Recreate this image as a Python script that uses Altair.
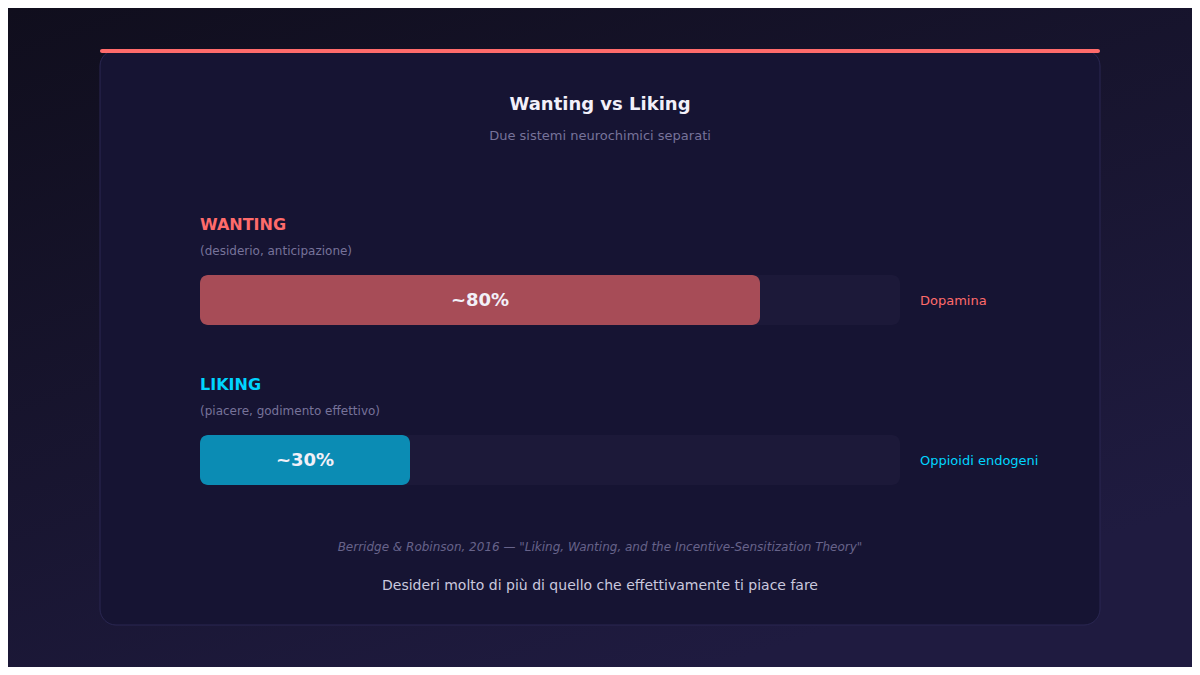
import altair as alt
import pandas as pd

# ---- data ----
names = ["WANTING", "LIKING"]
descs = ["(desiderio, anticipazione)", "(piacere, godimento effettivo)"]
values = [80, 30]
labels = ["~80%", "~30%"]
systems = ["Dopamina", "Oppioidi endogeni"]
track_max = [100, 100]

title_text = "Wanting vs Liking"
subtitle_text = "Due sistemi neurochimici separati"
citation_text = 'Berridge & Robinson, 2016 — "Liking, Wanting, and the Incentive-Sensitization Theory"'
footer_text = "Desideri molto di più di quello che effettivamente ti piace fare"

# ---- styles ----
bar_colors = ["#a74c57", "#0b8cb4"]
text_colors = ["#ff6b6b", "#00d4ff"]
FONT = "DejaVu Sans"
W, H = 1184, 659
OFF = 8

df = pd.DataFrame({
    "name": names, "desc": descs, "value": values, "label": labels,
    "system": systems, "track": track_max,
})
df["zero"] = 0
df["mid"] = df["value"] / 2

xs = alt.Scale(domain=[0, 100], range=[200 - OFF, 900 - OFF])
ys = alt.Scale(type="point", domain=names, range=[300 - OFF, 460 - OFF], padding=0)
bar_col = alt.Scale(domain=names, range=bar_colors)
txt_col = alt.Scale(domain=names, range=text_colors)

one = pd.DataFrame({"t": [0]})

bg = alt.Chart(one).mark_rect(
    color=alt.LinearGradient(
        gradient="linear",
        stops=[alt.GradientStop(color="#100e1d", offset=0),
               alt.GradientStop(color="#1f1b40", offset=1)],
        x1=0, y1=0, x2=0.6, y2=1,
    )
).encode(x=alt.value(0), x2=alt.value(W), y=alt.value(0), y2=alt.value(H))

card = alt.Chart(one).mark_rect(
    fill="#161433", stroke="#2a2752", strokeWidth=1, cornerRadius=16
).encode(x=alt.value(100 - OFF), x2=alt.value(1100 - OFF),
         y=alt.value(50 - OFF), y2=alt.value(625 - OFF))

topline = alt.Chart(one).mark_rect(fill="#ff6b6b", cornerRadius=2).encode(
    x=alt.value(100 - OFF), x2=alt.value(1100 - OFF),
    y=alt.value(49 - OFF), y2=alt.value(53 - OFF))

def static_text(txt, x, y, **kw):
    return alt.Chart(pd.DataFrame({"t": [txt]})).mark_text(font=FONT, **kw).encode(
        text="t:N", x=alt.value(x - OFF), y=alt.value(y - OFF))

title = static_text(title_text, 600, 105, fontSize=18, fontWeight="bold",
                    color="#f2f0fa", baseline="middle")
subtitle = static_text(subtitle_text, 600, 136, fontSize=13, color="#77739a",
                       baseline="middle")
citation = static_text(citation_text, 600, 547, fontSize=12, fontStyle="italic",
                       color="#67638a", baseline="middle")
footer = static_text(footer_text, 600, 586, fontSize=14, color="#cac8de",
                     baseline="middle")

base = alt.Chart(df)

track = base.mark_bar(size=50, cornerRadius=8, color="#1c1939").encode(
    x=alt.X("zero:Q", scale=xs, axis=None),
    x2="track:Q",
    y=alt.Y("name:N", scale=ys, axis=None),
)

bars = base.mark_bar(size=50, cornerRadius=8).encode(
    x=alt.X("zero:Q", scale=xs, axis=None),
    x2="value:Q",
    y=alt.Y("name:N", scale=ys, axis=None),
    color=alt.Color("name:N", scale=bar_col, legend=None),
)

pct = base.mark_text(font=FONT, fontSize=18, fontWeight="bold", color="#f2f0f8",
                     baseline="middle", align="center", dy=1).encode(
    x=alt.X("mid:Q", scale=xs, axis=None),
    y=alt.Y("name:N", scale=ys, axis=None),
    text="label:N",
)

name_lbl = base.mark_text(font=FONT, fontSize=16, fontWeight="bold", align="left",
                          baseline="middle", dy=-75).encode(
    x=alt.X("zero:Q", scale=xs, axis=None),
    y=alt.Y("name:N", scale=ys, axis=None),
    text="name:N",
    fill=alt.Fill("name:N", scale=txt_col, legend=None),
)

desc_lbl = base.mark_text(font=FONT, fontSize=12, align="left", baseline="middle",
                          dy=-49, color="#77739a").encode(
    x=alt.X("zero:Q", scale=xs, axis=None),
    y=alt.Y("name:N", scale=ys, axis=None),
    text="desc:N",
)

sys_lbl = base.mark_text(font=FONT, fontSize=13, align="left", baseline="middle",
                         dx=20, dy=1).encode(
    x=alt.X("track:Q", scale=xs, axis=None),
    y=alt.Y("name:N", scale=ys, axis=None),
    text="system:N",
    fill=alt.Fill("name:N", scale=txt_col, legend=None),
)

chart = alt.layer(
    bg, card, topline, title, subtitle, track, bars, pct, name_lbl, desc_lbl,
    sys_lbl, citation, footer
).resolve_scale(color="independent", fill="independent").properties(
    width=W, height=H, padding=0,
    autosize=alt.AutoSizeParams(type="none"),
    background="#12101f",
).configure_view(stroke=None)

chart.save("out.html", embed_options={"renderer": "svg", "actions": False})
